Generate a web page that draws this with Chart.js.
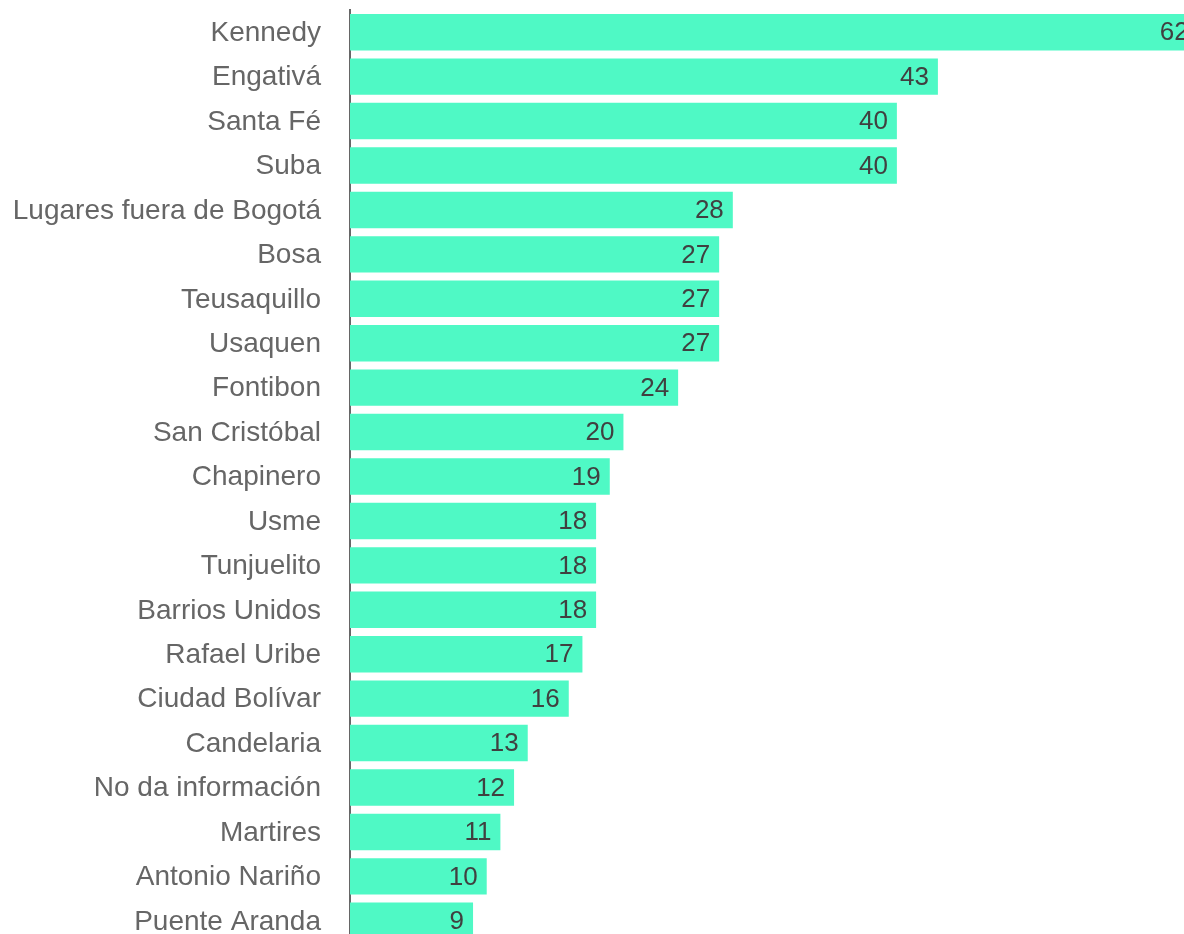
<!doctype html>
<html lang="es">
<head>
  <meta charset="utf-8">
  <title>Localidades</title>
  <style>
    html, body { margin: 0; padding: 0; background: #fff; overflow: hidden; }
    canvas { display: block; }
  </style>
</head>
<body>
<canvas id="myChart" width="1184" height="943"></canvas>
<script src="https://cdn.jsdelivr.net/npm/chart.js/dist/chart.umd.min.js"></script>
<script>
// localidades y número de casos
const localidades = ['Kennedy', 'Engativá', 'Santa Fé', 'Suba', 'Lugares fuera de Bogotá',
  'Bosa', 'Teusaquillo', 'Usaquen', 'Fontibon', 'San Cristóbal', 'Chapinero', 'Usme',
  'Tunjuelito', 'Barrios Unidos', 'Rafael Uribe', 'Ciudad Bolívar', 'Candelaria',
  'No da información', 'Martires', 'Antonio Nariño', 'Puente Aranda'];
const casos = [62, 43, 40, 40, 28, 27, 27, 27, 24, 20, 19, 18, 18, 18, 17, 16, 13, 12, 11, 10, 9];

// escribe el valor dentro del final de cada barra
const valueLabels = {
  id: 'valueLabels',
  afterDatasetsDraw(chart) {
    const ctx = chart.ctx;
    const meta = chart.getDatasetMeta(0);
    ctx.save();
    ctx.font = '26px "Liberation Sans", Arial, sans-serif';
    ctx.fillStyle = '#404040';
    ctx.textAlign = 'right';
    ctx.textBaseline = 'middle';
    meta.data.forEach((bar, i) => {
      ctx.fillText(casos[i], bar.x - 9, bar.y + 1);
    });
    ctx.restore();
  }
};

const config = {
  type: 'bar',
  data: {
    labels: localidades,
    datasets: [{
      data: casos,
      backgroundColor: '#4ff9c5',
      borderWidth: 0,
      categoryPercentage: 1,
      barPercentage: 0.82
    }]
  },
  options: {
    indexAxis: 'y',
    responsive: false,
    animation: false,
    layout: { padding: 0 },
    scales: {
      x: {
        display: false,
        min: 0,
        max: 61
      },
      y: {
        z: 1, // eje por encima de las barras
        grid: { display: false, drawTicks: false },
        border: { display: true, color: '#666', width: 2 },
        ticks: {
          color: '#666',
          padding: 29,
          labelOffset: 1,
          autoSkip: false,
          font: { family: '"Liberation Sans", Arial, sans-serif', size: 28 }
        },
        afterFit(scale) {
          scale.width = 350;
          scale.paddingTop = 10;
          scale.paddingBottom = 0;
        }
      }
    },
    plugins: {
      legend: { display: false },
      tooltip: { enabled: false }
    }
  },
  plugins: [valueLabels]
};

const myChart = new Chart(document.getElementById('myChart'), config);
</script>
</body>
</html>
